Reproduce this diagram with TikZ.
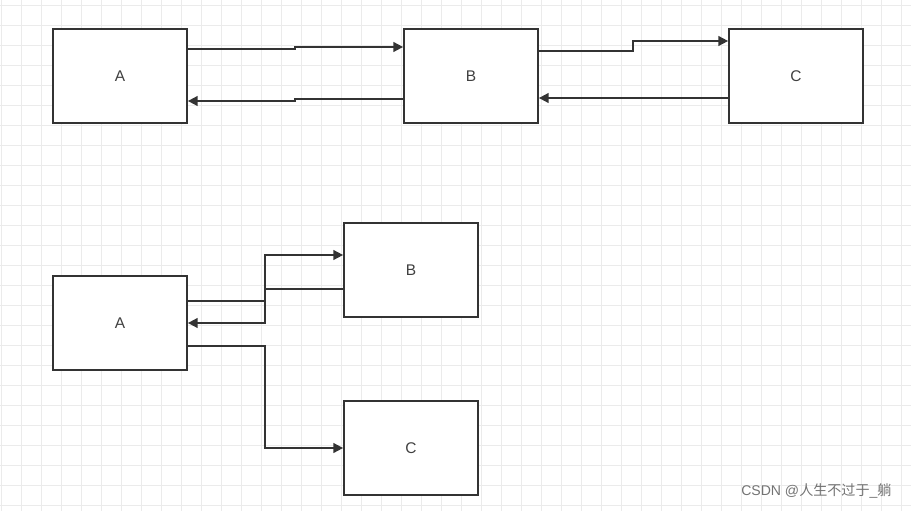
\documentclass[tikz,border=0pt]{standalone}
\usepackage{fontspec}
\setmainfont{Liberation Sans}
\newfontfamily\cjk{Noto Sans CJK SC}
\usetikzlibrary{arrows.meta}

\begin{document}
\begin{tikzpicture}[x=0.025cm, y=-0.025cm, line width=1.2pt]
\tikzset{ box/.style={draw=black!80, fill=white, minimum width=3.35cm,
    minimum height=2.35cm, inner sep=0pt, font=\fontsize{11pt}{12}\selectfont, text=black!75},
  link/.style = {draw=black!80, -{Triangle[length=7pt,width=7pt]}},
  gridline/.style = {draw=black!8, line width=0.6pt}
}
\useasboundingbox (0,0) rectangle (911,511);
\foreach \gx in {1,21,...,911} \draw[gridline] (\gx,0) -- (\gx,511);
\foreach \gy in {5,25,...,511} \draw[gridline] (0,\gy) -- (911,\gy);

% upper chain
\node[box] (a1) at (120,76) {A};
\node[box] (b1) at (471,76) {B};
\node[box] (c1) at (796,76) {C};
\draw[link] (a1.east |- 0,49) -- (295,49) -- (295,47) -- (b1.west |- 0,47);
\draw[link] (b1.west |- 0,99) -- (295,99) -- (295,101) -- (a1.east |- 0,101);
\draw[link] (b1.east |- 0,51) -- (633,51) -- (633,41) -- (c1.west |- 0,41);
\draw[link] (c1.west |- 0,98) -- (b1.east |- 0,98);

% lower fan
\node[box] (a2) at (120,323) {A};
\node[box] (b2) at (411,270) {B};
\node[box] (c2) at (411,448) {C};
\draw[link] (a2.east |- 0,301) -- (265,301) -- (265,255) -- (b2.west |- 0,255);
\draw[link] (b2.west |- 0,289) -- (265,289) -- (265,323) -- (a2.east);
\draw[link] (a2.east |- 0,346) -- (265,346) -- (265,448) -- (c2.west);

\node[anchor=east, text=black!55, font=\fontsize{10pt}{12}\selectfont] (mark) at (897,491) {CSDN @{\cjk 人生不过于}\_{\cjk 躺}};
\end{tikzpicture}
\end{document}
